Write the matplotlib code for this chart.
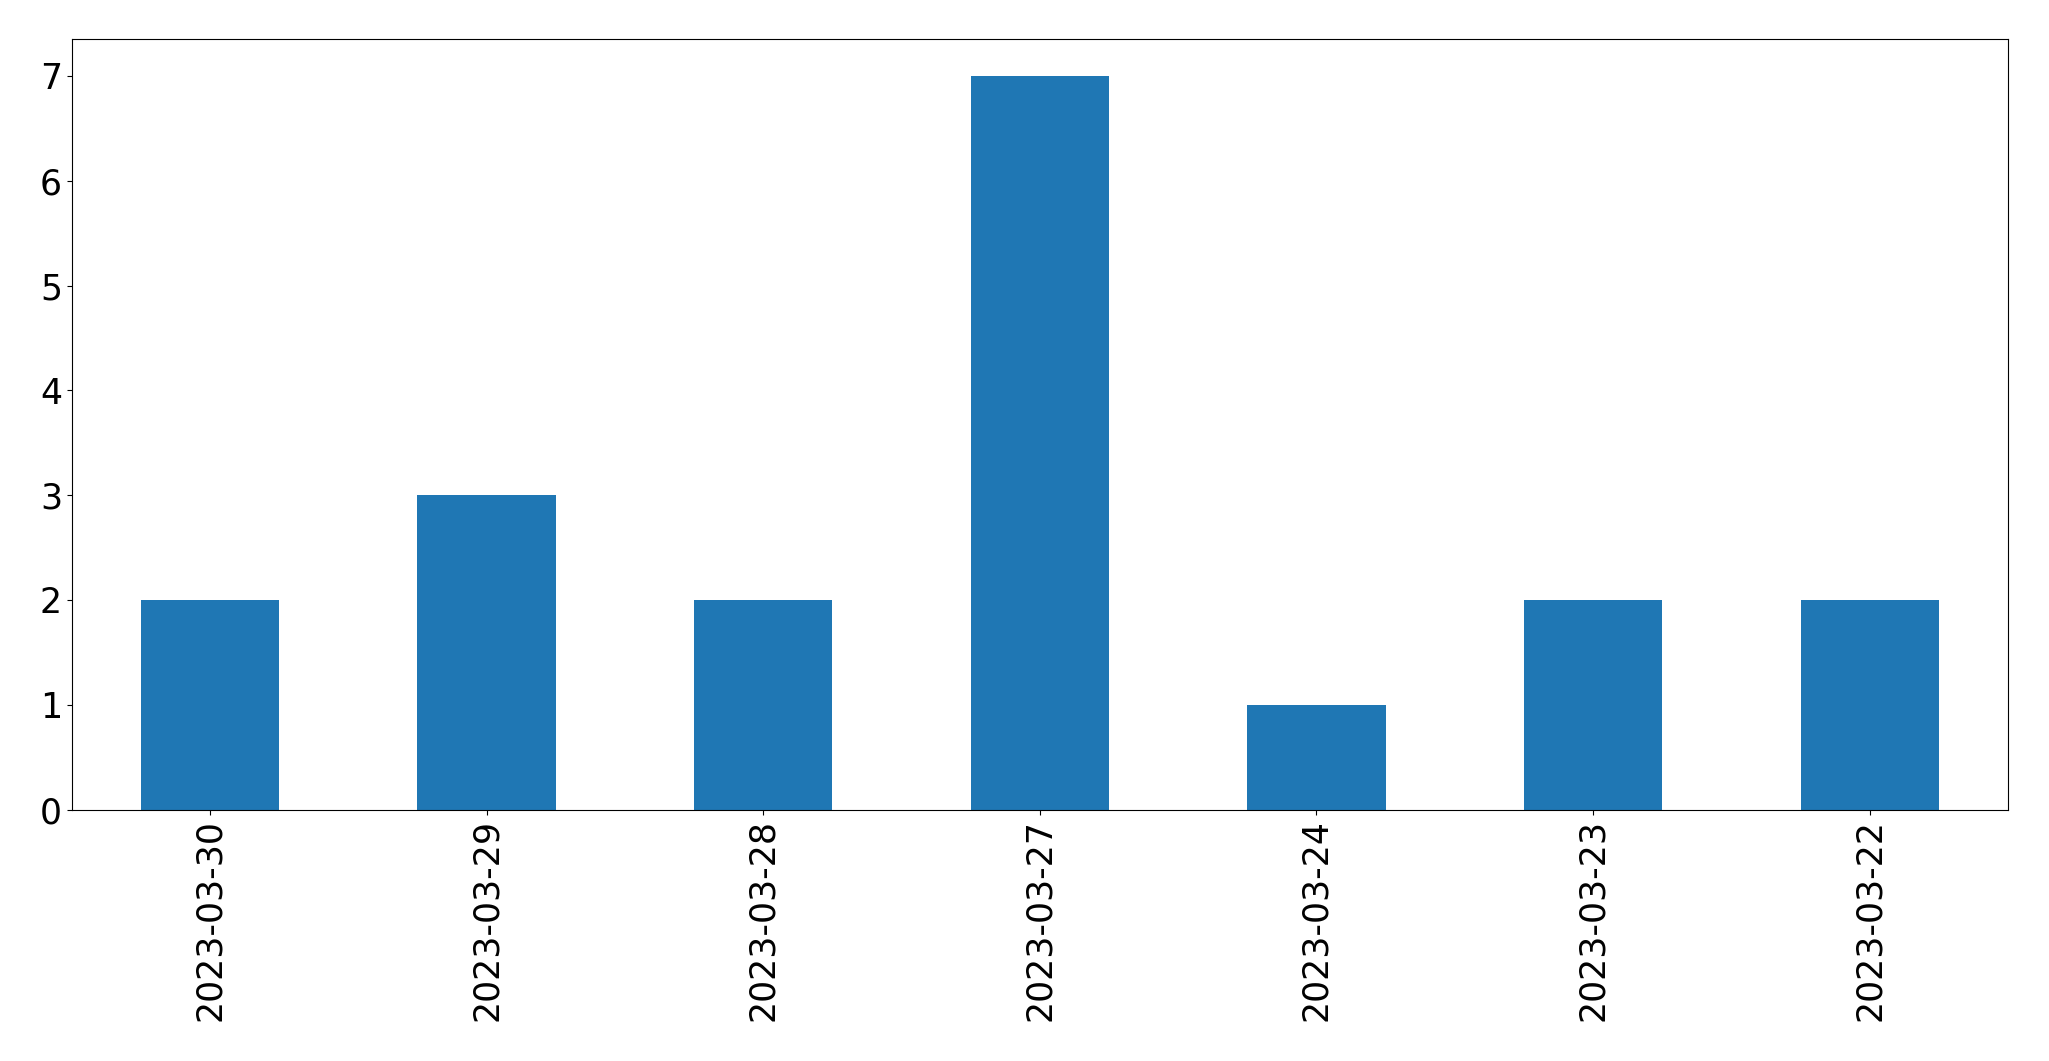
import matplotlib
matplotlib.use("Agg")
import matplotlib.pyplot as plt
import pandas as pd

dates = ["2023-03-30", "2023-03-29", "2023-03-28", "2023-03-27",
         "2023-03-24", "2023-03-23", "2023-03-22"]
counts = [2, 3, 2, 7, 1, 2, 2]

s = pd.Series(counts, index=dates)

fig, ax = plt.subplots(figsize=(20.49, 10.61), dpi=100)
s.plot(kind="bar", ax=ax, color="#1f77b4", fontsize=25)
ax.tick_params(labelsize=25)
fig.subplots_adjust(left=0.035, right=0.98, top=0.963, bottom=0.237)
fig.savefig("out.png", dpi=100)
